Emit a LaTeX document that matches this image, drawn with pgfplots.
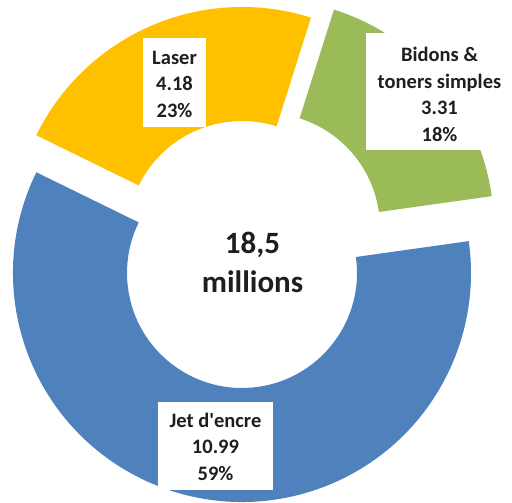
\documentclass[border=0pt]{standalone}
\usepackage{pgfplots}
\pgfplotsset{compat=1.18}
\usetikzlibrary{calc}
\usepackage{fontspec}
\setmainfont{Carlito}[Ligatures=TeXOff]
\definecolor{jetblue}{HTML}{4F81BD}
\definecolor{laseryellow}{HTML}{FFC000}
\definecolor{bidongreen}{HTML}{9BBB59}
\definecolor{txt}{HTML}{1E1E1E}
% data (millions)
\def\vBidons{3.31}
\def\vLaser{4.18}
\def\vJet{10.99}
% geometry (pt)
\def\cx{242}\def\cy{230}\def\R{229}\def\r{115}
\newcommand\sector[5]{% colour, start, end, dx, dy
  \fill[#1] ($(axis cs:\cx+#4,\cy+#5)+(#2:\R pt)$) arc[start angle=#2, end angle=#3, radius=\R pt]
    -- ($(axis cs:\cx+#4,\cy+#5)+(#3:\r pt)$) arc[start angle=#3, end angle=#2, radius=\r pt] -- cycle;}
\begin{document}
\begin{tikzpicture}
\pgfmathsetmacro\tot{\vBidons+\vLaser+\vJet}
\pgfmathsetmacro\aA{8}
\pgfmathsetmacro\aB{\aA+360*\vBidons/\tot}
\pgfmathsetmacro\aC{\aB+360*\vLaser/\tot}
\pgfmathsetmacro\aD{\aC+360*\vJet/\tot}
\begin{axis}[width=512pt,height=503pt,scale only axis,
  xmin=0,xmax=512,ymin=0,ymax=503,hide axis]
\sector{jetblue}{\aC}{\aD}{0}{0}
\sector{laseryellow}{\aB}{\aC}{0}{37}
\sector{bidongreen}{\aA}{\aB}{23}{45}
% label boxes
\node[fill=white,minimum width=63pt,minimum height=89pt,inner sep=0pt] at (axis cs:174.5,420.5) {};
\node[fill=white,minimum width=147pt,minimum height=117pt,inner sep=0pt] at (axis cs:439.5,411.5) {};
\node[fill=white,minimum width=115pt,minimum height=88pt,inner sep=0pt] at (axis cs:215.5,57) {};
% labels
\node[font=\fontsize{20.5}{26.5}\selectfont\bfseries,text=txt,align=center,inner sep=0pt] at (axis cs:174.5,419) {Laser\\4.18\\23\%};
\node[font=\fontsize{20.5}{26.5}\selectfont\bfseries,text=txt,align=center,inner sep=0pt] at (axis cs:439.5,408.5) {Bidons \&\\toners simples\\3.31\\18\%};
\node[font=\fontsize{20.5}{26.5}\selectfont\bfseries,text=txt,align=center,inner sep=0pt] at (axis cs:215.5,56.5) {Jet d'encre\\10.99\\59\%};
\node[font=\fontsize{31}{39}\selectfont\bfseries,text=txt,align=center,inner sep=0pt] at (axis cs:252.5,240.5) {18,5\\millions};
\end{axis}
\end{tikzpicture}
\end{document}
